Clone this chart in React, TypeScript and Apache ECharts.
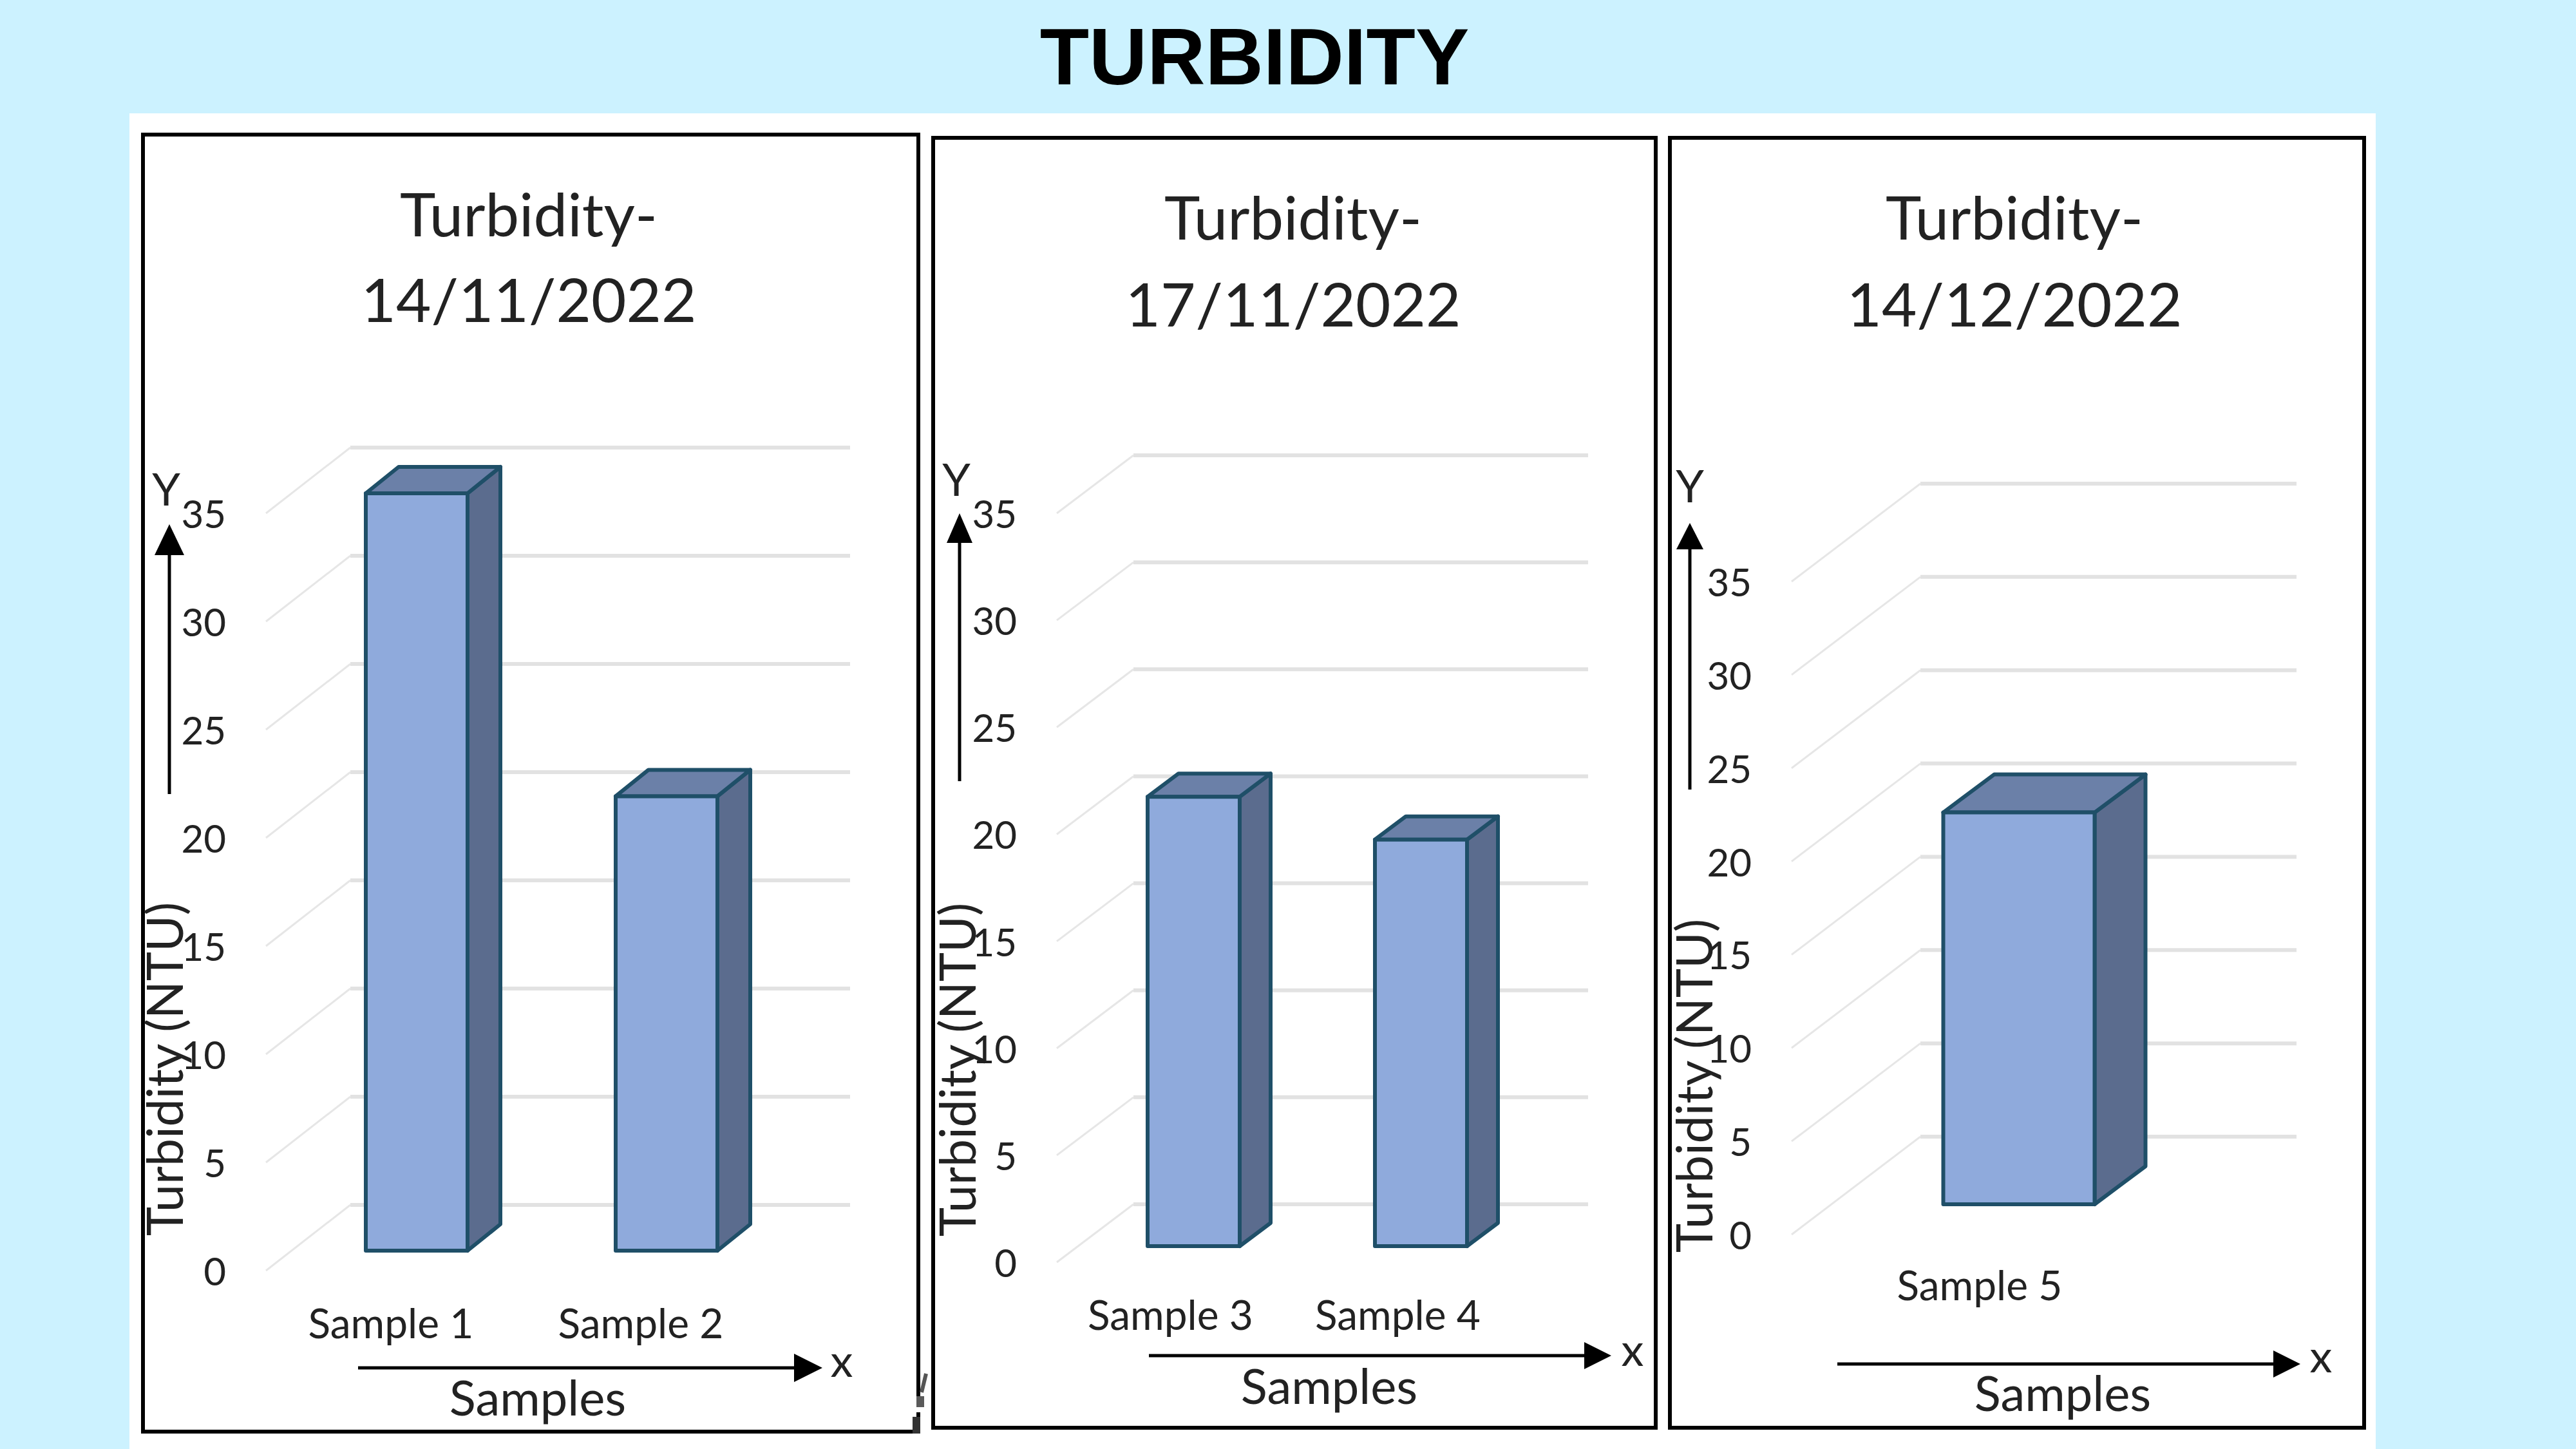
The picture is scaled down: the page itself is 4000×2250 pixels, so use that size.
import React, { useEffect, useRef } from "react";
import * as echarts from "echarts";

const MAIN_TITLE = "TURBIDITY";
const TICKS = [0, 5, 10, 15, 20, 25, 30, 35];
const Y_AXIS_TITLE = "Turbidity (NTU)";
const X_AXIS_TITLE = "Samples";

const titles1 = ["Turbidity-", "14/11/2022"];
const categories1 = ["Sample 1", "Sample 2"];
const values1 = [35, 21];

const titles2 = ["Turbidity-", "17/11/2022"];
const categories2 = ["Sample 3", "Sample 4"];
const values2 = [21, 19];

const titles3 = ["Turbidity-", "14/12/2022"];
const categories3 = ["Sample 5"];
const values3 = [21];

const FONT = "Lato";
const TEXT = "#222222";

const layouts = [
  {
    frame: [222, 209, 1204, 2014], left: 413, width: 776, y35: 797, y0: 1973,
    back: [131, 102], barOff: [40, 31], barW: 158, side: [51, 41], labelGap: 48,
    titleX: 816, titleY: [325, 458],
    yArrow: [263, 1233, 814, 46, 48], yLetter: [258, 758],
    xArrow: [2124, 556, 1277, 44, 44], xLetter: [1307, 2111],
    samples: [835, 2168], yTitle: [254, 1660],
  },
  {
    frame: [1449, 214, 1122, 2003], left: 1641, width: 706, y35: 797, y0: 1960,
    back: [119, 90], barOff: [36, 25], barW: 143, side: [48, 36], labelGap: 48,
    titleX: 2003, titleY: [330, 465],
    yArrow: [1490, 1213, 797, 40, 46], yLetter: [1485, 743],
    xArrow: [2105, 1784, 2502, 42, 42], xLetter: [2535, 2094],
    samples: [2064, 2150], yTitle: [1485, 1661],
  },
  {
    frame: [2593, 214, 1078, 2003], left: 2782, width: 584, y35: 903, y0: 1917,
    back: [200, 152], barOff: [61, 47], barW: 235, side: [79, 59], labelGap: 45,
    titleX: 3123, titleY: [330, 465],
    yArrow: [2624, 1226, 812, 42, 41], yLetter: [2624, 753],
    xArrow: [2118, 2853, 3572, 42, 42], xLetter: [3604, 2104],
    samples: [3203, 2161], yTitle: [2629, 1686],
  },
];

const panels = [
  { titles: titles1, categories: categories1, values: values1 },
  { titles: titles2, categories: categories2, values: values2 },
  { titles: titles3, categories: categories3, values: values3 },
];

const wallSeries = (gridIndex: number, L: (typeof layouts)[number]) => ({
  type: "custom",
  xAxisIndex: gridIndex,
  yAxisIndex: gridIndex,
  silent: true,
  z: 1,
  clip: false,
  encode: { x: 0, y: 1 },
  data: TICKS.map((t) => [0, t]),
  renderItem: (params: any, api: any) => {
    const y = api.coord([0, api.value(1)])[1];
    const x = params.coordSys.x;
    const w = params.coordSys.width;
    const [dx, dy] = L.back;
    return {
      type: "group",
      children: [
        {
          type: "line",
          shape: { x1: x, y1: y, x2: x + dx, y2: y - dy },
          style: { stroke: "#e6e6e6", lineWidth: 3 },
        },
        {
          type: "line",
          shape: { x1: x + dx, y1: y - dy, x2: x + dx + w, y2: y - dy },
          style: { stroke: "#e2e2e2", lineWidth: 6 },
        },
      ],
    };
  },
});

const barSeries = (gridIndex: number, L: (typeof layouts)[number], values: number[]) => ({
  type: "custom",
  xAxisIndex: gridIndex,
  yAxisIndex: gridIndex,
  silent: true,
  z: 3,
  clip: false,
  encode: { x: 0, y: 1 },
  data: values.map((v, i) => [i, v]),
  renderItem: (_params: any, api: any) => {
    const [cx, top] = api.coord([api.value(0), api.value(1)]);
    const bottom = api.coord([api.value(0), 0])[1];
    const [ox, oy] = L.barOff;
    const [sx, sy] = L.side;
    const l = cx + ox - L.barW / 2;
    const r = cx + ox + L.barW / 2;
    const t = top - oy;
    const b = bottom - oy;
    const stroke = { stroke: "#1f4f68", lineWidth: 6, lineJoin: "round" };
    return {
      type: "group",
      children: [
        {
          type: "polygon",
          shape: { points: [[r, t], [r + sx, t - sy], [r + sx, b - sy], [r, b]] },
          style: { fill: "#5b6c8e", ...stroke },
        },
        {
          type: "polygon",
          shape: { points: [[l, t], [r, t], [r + sx, t - sy], [l + sx, t - sy]] },
          style: { fill: "#6b80a8", ...stroke },
        },
        {
          type: "rect",
          shape: { x: l, y: t, width: r - l, height: b - t },
          style: { fill: "#8faadc", ...stroke },
        },
      ],
    };
  },
});

const annotation = (text: string, x: number, y: number, size: number, rotation = 0) => ({
  type: "text",
  x,
  y,
  rotation,
  z: 20,
  silent: true,
  style: {
    text,
    x: 0,
    y: 0,
    align: "center",
    verticalAlign: "middle",
    textAlign: "center",
    textVerticalAlign: "middle",
    fontFamily: FONT,
    fontSize: size,
    fill: TEXT,
  },
});

const arrows = (L: (typeof layouts)[number]) => {
  const [yx, yFrom, yTip, yHeadW, yHeadH] = L.yArrow;
  const [xy, xFrom, xTip, xHeadH, xHeadW] = L.xArrow;
  const black = { stroke: "#000", lineWidth: 5 };
  return [
    { type: "line", z: 19, silent: true, shape: { x1: yx, y1: yFrom, x2: yx, y2: yTip + yHeadH }, style: black },
    {
      type: "polygon", z: 19, silent: true,
      shape: { points: [[yx, yTip], [yx - yHeadW / 2, yTip + yHeadH], [yx + yHeadW / 2, yTip + yHeadH]] },
      style: { fill: "#000" },
    },
    { type: "line", z: 19, silent: true, shape: { x1: xFrom, y1: xy, x2: xTip - xHeadW, y2: xy }, style: black },
    {
      type: "polygon", z: 19, silent: true,
      shape: { points: [[xTip, xy], [xTip - xHeadW, xy - xHeadH / 2], [xTip - xHeadW, xy + xHeadH / 2]] },
      style: { fill: "#000" },
    },
  ];
};

// The small scan remnant and broken stretch at the first frame's lower right corner.
const frameRemnant = [
  { type: "rect", z: -4, silent: true, shape: { x: 1420, y: 2185, width: 12, height: 8 }, style: { fill: "#ffffff" } },
  { type: "rect", z: -4, silent: true, shape: { x: 1423, y: 2168, width: 12, height: 17 }, style: { fill: "#5a5a5a" } },
  { type: "rect", z: -4, silent: true, shape: { x: 1417, y: 2200, width: 12, height: 26 }, style: { fill: "#333333" } },
  { type: "line", z: -4, silent: true, shape: { x1: 1438, y1: 2133, x2: 1431, y2: 2162 }, style: { stroke: "#555555", lineWidth: 6 } },
];

export default function App() {
  const ref = useRef<HTMLDivElement>(null);

  useEffect(() => {
    document.body.style.margin = "0";
    const chart = echarts.init(ref.current!, undefined, { renderer: "svg" });

    const title: any[] = [
      {
        text: MAIN_TITLE,
        left: 1943,
        top: 82,
        textAlign: "center",
        textVerticalAlign: "middle",
        textStyle: { fontFamily: "Liberation Sans", fontWeight: "bold", fontSize: 125, color: "#000" },
      },
    ];
    panels.forEach((p, i) => {
      const L = layouts[i];
      p.titles.forEach((t, k) => {
        title.push({
          text: t,
          left: L.titleX,
          top: L.titleY[k],
          textAlign: "center",
          textVerticalAlign: "middle",
          textStyle: { fontFamily: FONT, fontWeight: "normal", fontSize: 94, color: TEXT },
        });
      });
    });

    const graphic: any[] = [
      {
        type: "rect", z: -10, silent: true,
        shape: { x: 201, y: 176, width: 3488, height: 2074 },
        style: { fill: "#ffffff" },
      },
    ];
    layouts.forEach((L) => {
      const [x, y, w, h] = L.frame;
      graphic.push({
        type: "rect", z: -5, silent: true,
        shape: { x, y, width: w, height: h },
        style: { fill: "transparent", stroke: "#000", lineWidth: 6 },
      });
      graphic.push(...arrows(L));
      graphic.push(annotation("Y", L.yLetter[0], L.yLetter[1], 70));
      graphic.push(annotation("x", L.xLetter[0], L.xLetter[1], 70));
      graphic.push(annotation(X_AXIS_TITLE, L.samples[0], L.samples[1], 76));
      graphic.push(annotation(Y_AXIS_TITLE, L.yTitle[0], L.yTitle[1], 77, Math.PI / 2));
    });
    graphic.push(...frameRemnant);

    chart.setOption({
      animation: false,
      backgroundColor: "#ccf2ff",
      title,
      graphic: { elements: graphic },
      grid: layouts.map((L) => ({
        left: L.left,
        top: L.y35,
        width: L.width,
        height: L.y0 - L.y35,
      })),
      xAxis: panels.map((p, i) => ({
        type: "category",
        gridIndex: i,
        data: p.categories,
        axisLine: { show: false },
        axisTick: { show: false },
        splitLine: { show: false },
        axisLabel: {
          margin: layouts[i].labelGap,
          interval: 0,
          fontFamily: FONT,
          fontSize: 64,
          color: TEXT,
        },
      })),
      yAxis: panels.map((_p, i) => ({
        type: "value",
        gridIndex: i,
        min: 0,
        max: 35,
        interval: 5,
        axisLine: { show: false },
        axisTick: { show: false },
        splitLine: { show: false },
        axisLabel: { margin: 62, fontFamily: FONT, fontSize: 60, color: TEXT, padding: [0, 0, 4, 0] },
      })),
      series: panels.flatMap((p, i) => [
        wallSeries(i, layouts[i]),
        barSeries(i, layouts[i], p.values),
      ]),
    });

    return () => chart.dispose();
  }, []);

  return <div ref={ref} style={{ position: "fixed", left: 0, top: 0, width: 4000, height: 2250 }} />;
}
